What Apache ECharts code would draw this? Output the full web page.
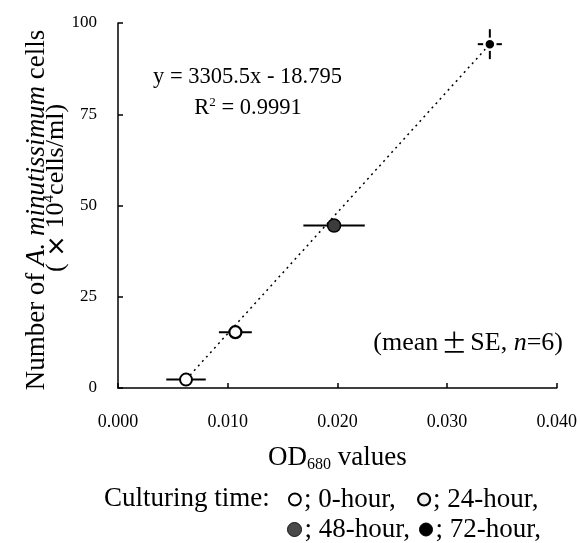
<!DOCTYPE html>
<html>
<head>
<meta charset="utf-8">
<script src="https://cdn.jsdelivr.net/npm/echarts@6/dist/echarts.min.js"></script>
<style>
  html, body { margin: 0; padding: 0; background: #fff; }
  #chart { width: 580px; height: 543px; }
</style>
</head>
<body>
<div id="chart"></div>
<script>
// culturing time groups
const timeLabels = ['0-hour', '24-hour', '48-hour', '72-hour'];
// OD680 mean and SE
const odMean = [0.0062, 0.0107, 0.0197, 0.0339];
const odSE = [0.0018, 0.0015, 0.0028, 0.0011];
// cell counts (x10^4 cells/ml) mean and SE
const cellMean = [2.3, 15.3, 44.5, 94.2];
const cellSE = [0.4, 0.6, 1.0, 4.1];
// regression line end points
const trendX = [0.0062, 0.0339];
const trendY = [2.3, 94.2];

const serif = 'Liberation Serif, Times New Roman, serif';

const markerStyles = [
  { size: 12, color: '#fff', borderColor: '#000', borderWidth: 2 },
  { size: 12, color: '#fff', borderColor: '#000', borderWidth: 2.2 },
  { size: 13, color: '#3c3c3c', borderColor: '#000', borderWidth: 1.5 },
  { size: 11, color: '#000', borderColor: '#fff', borderWidth: 2.5 }
];
const legendStyles = [
  { color: '#fff', borderColor: '#000', borderWidth: 1.8 },
  { color: '#eee', borderColor: '#000', borderWidth: 2.2 },
  { color: '#4a4a4a', borderColor: '#111', borderWidth: 1 },
  { color: '#000', borderColor: '#000', borderWidth: 1 }
];
// legend slot positions (left, top, icon size)
const legendSlots = [
  [288, 486, 12], [417, 486, 12],
  [287, 516, 14], [419, 516, 13]
];

const chart = echarts.init(document.getElementById('chart'));

const pointSeries = timeLabels.map((name, i) => ({
  name: name,
  type: 'scatter',
  data: [[odMean[i], cellMean[i]]],
  symbol: 'circle',
  symbolSize: markerStyles[i].size,
  itemStyle: {
    color: markerStyles[i].color,
    borderColor: markerStyles[i].borderColor,
    borderWidth: markerStyles[i].borderWidth,
    opacity: 1
  },
  z: 5
}));

const legends = timeLabels.map((name, i) => ({
  data: [{ name: name, itemStyle: legendStyles[i] }],
  left: legendSlots[i][0],
  top: legendSlots[i][1],
  padding: 0,
  itemWidth: legendSlots[i][2],
  itemHeight: legendSlots[i][2],
  icon: 'circle',
  selectedMode: false,
  formatter: '; {name},',
  textStyle: { fontFamily: serif, fontSize: 27, color: '#000', padding: [0, 0, 0, -2] }
}));

chart.setOption({
  animation: false,
  backgroundColor: '#fff',
  grid: { left: 118, right: 20, top: 23, bottom: 155 },
  xAxis: {
    type: 'value',
    min: 0, max: 0.04, interval: 0.01,
    axisLine: { show: true, lineStyle: { color: '#000', width: 1.5 } },
    axisTick: { show: true, inside: true, length: 5, lineStyle: { color: '#000', width: 1.5 } },
    splitLine: { show: false },
    axisLabel: {
      margin: 25, color: '#000', fontFamily: serif, fontSize: 18,
      formatter: v => v.toFixed(3)
    },
    name: '{a|OD}{s|680}{a| values}',
    nameLocation: 'middle',
    nameGap: 55,
    nameTextStyle: {
      rich: {
        a: { fontFamily: serif, fontSize: 27, color: '#000', lineHeight: 30 },
        s: { fontFamily: serif, fontSize: 16, color: '#000', verticalAlign: 'bottom', lineHeight: 16, padding: [10, 0, 0, 0] }
      }
    }
  },
  yAxis: {
    type: 'value',
    min: 0, max: 100, interval: 25,
    axisLine: { show: true, lineStyle: { color: '#000', width: 1.5 } },
    axisTick: { show: true, inside: true, length: 5, lineStyle: { color: '#000', width: 1.5 } },
    splitLine: { show: false },
    axisLabel: { margin: 21, color: '#000', fontFamily: serif, fontSize: 17 }
  },
  legend: legends,
  graphic: [
    {
      type: 'text', x: 37, y: 210, rotation: Math.PI / 2,
      style: {
        text: '{n|Number of }{i|A. minutissimum}{n| cells}',
        align: 'center', verticalAlign: 'middle', textAlign: 'center', textVerticalAlign: 'middle',
        rich: {
          n: { fontFamily: serif, fontSize: 27, fill: '#000' },
          i: { fontFamily: serif, fontSize: 27, fontStyle: 'italic', fill: '#000' }
        }
      }
    },
    {
      type: 'text', x: 56, y: 188, rotation: Math.PI / 2,
      style: {
        text: '{n|( }{x|×}{n| 10}{p|4}{n|cells/ml)}',
        align: 'center', verticalAlign: 'middle', textAlign: 'center', textVerticalAlign: 'middle',
        rich: {
          n: { fontFamily: serif, fontSize: 26, fill: '#000', lineHeight: 28 },
          x: { fontFamily: 'Noto Sans CJK SC, sans-serif', fontSize: 22, fontWeight: 'bold', fill: '#000', lineHeight: 28 },
          p: { fontFamily: serif, fontSize: 15, fill: '#000', verticalAlign: 'top', lineHeight: 15 }
        }
      }
    },
    {
      type: 'text', x: 153, y: 77,
      style: {
        text: 'y = 3305.5x - 18.795',
        font: '22.5px ' + serif, fill: '#000',
        align: 'left', verticalAlign: 'middle', textAlign: 'left', textVerticalAlign: 'middle'
      }
    },
    {
      type: 'text', x: 248, y: 108,
      style: {
        text: '{n|R}{p|2}{n| = 0.9991}',
        align: 'center', verticalAlign: 'middle', textAlign: 'center', textVerticalAlign: 'middle',
        rich: {
          n: { fontFamily: serif, fontSize: 22.5, fill: '#000', lineHeight: 24 },
          p: { fontFamily: serif, fontSize: 13, fill: '#000', verticalAlign: 'top', lineHeight: 13 }
        }
      }
    },
    {
      type: 'text', x: 563, y: 343,
      style: {
        text: '{n|(mean}{pm|±}{n|SE, }{i|n}{n|=6)}',
        align: 'right', verticalAlign: 'middle', textAlign: 'right', textVerticalAlign: 'middle',
        rich: {
          n: { fontFamily: serif, fontSize: 26, fill: '#000' },
          i: { fontFamily: serif, fontSize: 26, fontStyle: 'italic', fill: '#000' },
          pm: { fontFamily: 'Noto Sans CJK SC, sans-serif', fontSize: 26, fill: '#000', padding: [0, 3, 0, 3] }
        }
      }
    },
    {
      type: 'text', x: 104, y: 499,
      style: {
        text: 'Culturing time:',
        font: '27px ' + serif, fill: '#000',
        align: 'left', verticalAlign: 'middle', textAlign: 'left', textVerticalAlign: 'middle'
      }
    }
  ],
  series: [
    {
      name: 'trend',
      type: 'line',
      data: trendX.map((x, i) => [x, trendY[i]]),
      symbol: 'none',
      lineStyle: { color: '#000', width: 1.5, type: [2, 4] },
      z: 2,
      silent: true
    },
    {
      name: 'errors',
      type: 'custom',
      data: odMean.map((x, i) => [x, cellMean[i], odSE[i], cellSE[i]]),
      encode: { x: 0, y: 1 },
      renderItem: (params, api) => {
        const x = api.value(0), y = api.value(1);
        const ex = api.value(2), ey = api.value(3);
        const l = api.coord([x - ex, y]);
        const r = api.coord([x + ex, y]);
        const t = api.coord([x, y + ey]);
        const b = api.coord([x, y - ey]);
        return {
          type: 'group',
          children: [
            { type: 'line', shape: { x1: l[0], y1: l[1], x2: r[0], y2: r[1] }, style: { stroke: '#000', lineWidth: 2 } },
            { type: 'line', shape: { x1: t[0], y1: t[1], x2: b[0], y2: b[1] }, style: { stroke: '#000', lineWidth: 2 } }
          ]
        };
      },
      z: 3,
      silent: true
    }
  ].concat(pointSeries)
});
</script>
</body>
</html>
